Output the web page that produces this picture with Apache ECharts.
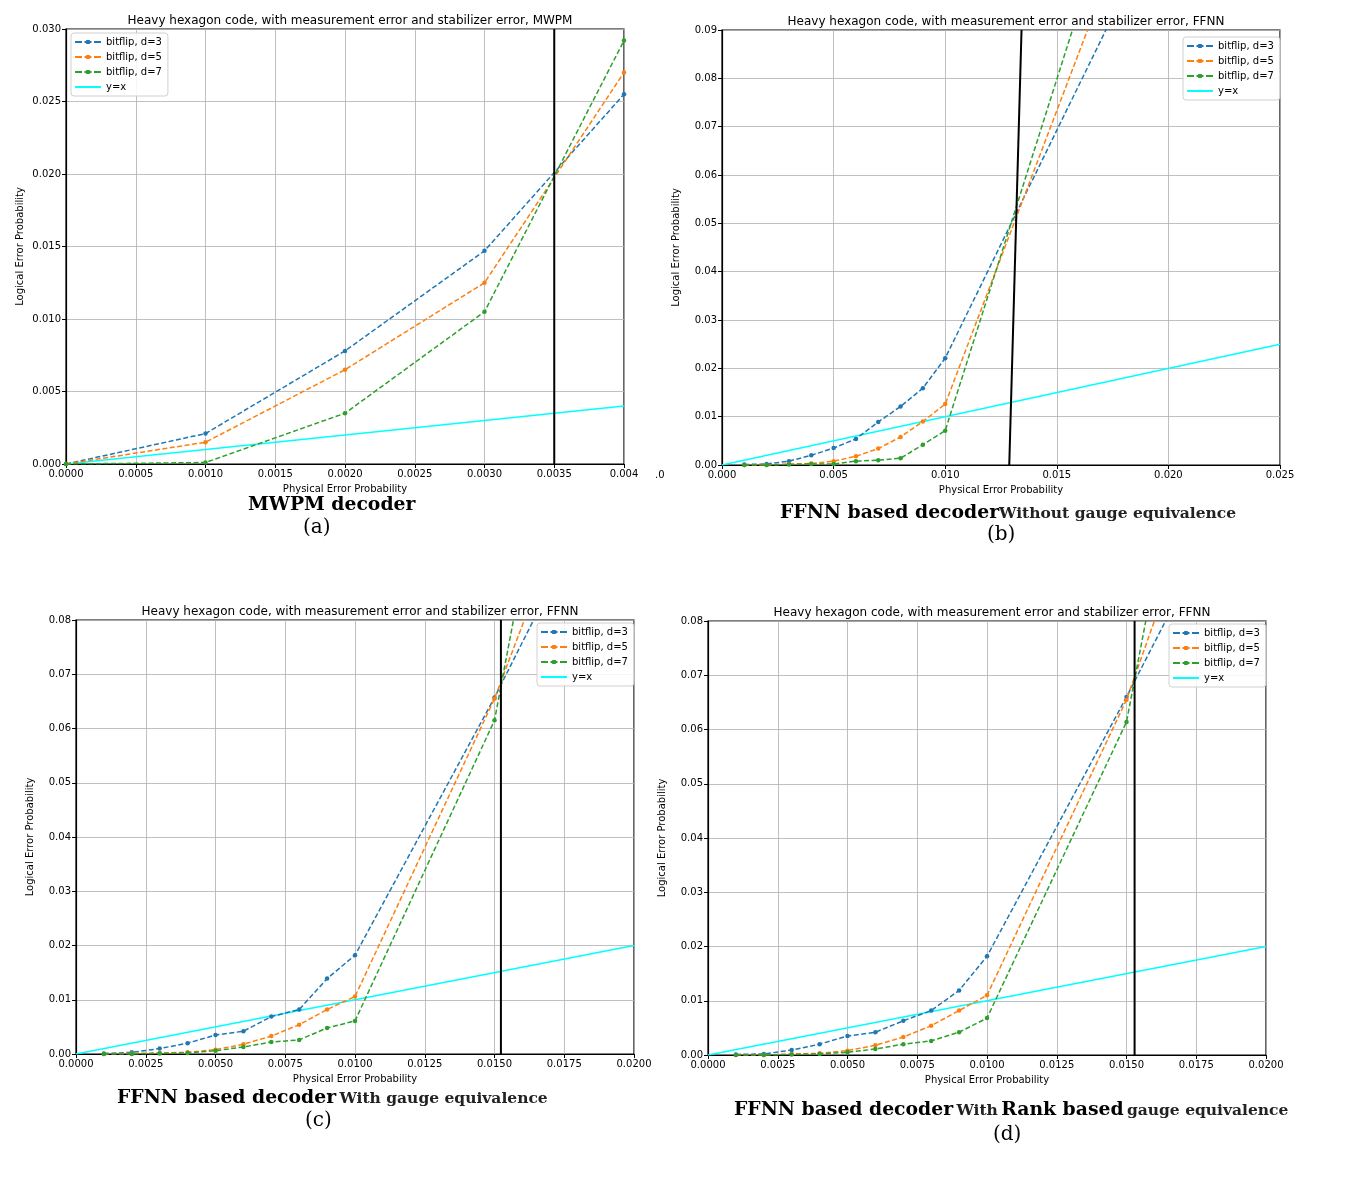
<!DOCTYPE html>
<html>
<head>
<meta charset="utf-8">
<title>Heavy hexagon code decoders</title>
<script src="https://cdn.jsdelivr.net/npm/echarts@6/dist/echarts.min.js"></script>
<style>
  html, body { margin: 0; padding: 0; background: #fff; }
  #main { width: 1353px; height: 1184px; }
</style>
</head>
<body>
<div id="main"></div>
<script>
// (a) MWPM
const pA = [0, 0.001, 0.002, 0.003, 0.004];
const aD3 = [0, 0.0021, 0.0078, 0.0147, 0.0255];
const aD5 = [0, 0.0015, 0.0065, 0.0125, 0.0270];
const aD7 = [0, 0.0001, 0.0035, 0.0105, 0.0292];
const aThreshX = [0.0035, 0.0035];
const aThreshY = [0, 0.03];

// (b) FFNN, without gauge equivalence
const pB = [0.001, 0.002, 0.003, 0.004, 0.005, 0.006, 0.007, 0.008, 0.009, 0.010, 0.020];
const bD3 = [0.0001, 0.0002, 0.0008, 0.0020, 0.0035, 0.0054, 0.0089, 0.0121, 0.0159, 0.0221, 0.1164];
const bD5 = [0, 0, 0.0002, 0.0003, 0.0008, 0.0018, 0.0034, 0.0058, 0.0090, 0.0126, 0.1340];
const bD7 = [0, 0, 0.0001, 0.0002, 0.0002, 0.0008, 0.0010, 0.0014, 0.0042, 0.0071, 0.1525];
const bThreshX = [0.01287, 0.01342];
const bThreshY = [0, 0.09];

// (c) FFNN, with gauge equivalence
const pC = [0.001, 0.002, 0.003, 0.004, 0.005, 0.006, 0.007, 0.008, 0.009, 0.010, 0.015, 0.020];
const cD3 = [0.0001, 0.0003, 0.0010, 0.0020, 0.0035, 0.0042, 0.0069, 0.0082, 0.0139, 0.0182, 0.0657, 0.1167];
const cD5 = [0, 0.0001, 0.0002, 0.0003, 0.0008, 0.0018, 0.0033, 0.0054, 0.0082, 0.0106, 0.0655, 0.1333];
const cD7 = [0, 0, 0.0001, 0.0002, 0.0006, 0.0013, 0.0022, 0.0026, 0.0048, 0.0061, 0.0615, 0.1975];
const cThreshX = [0.01523, 0.01523];
const cThreshY = [0, 0.08];

// (d) FFNN, with rank based gauge equivalence
const pD = [0.001, 0.002, 0.003, 0.004, 0.005, 0.006, 0.007, 0.008, 0.009, 0.010, 0.015, 0.020];
const dD3 = [0.0001, 0.0002, 0.0009, 0.0020, 0.0035, 0.0042, 0.0063, 0.0082, 0.0119, 0.0182, 0.0660, 0.1160];
const dD5 = [0, 0, 0.0002, 0.0003, 0.0008, 0.0018, 0.0033, 0.0054, 0.0082, 0.0110, 0.0655, 0.1380];
const dD7 = [0, 0, 0.0001, 0.0002, 0.0005, 0.0011, 0.0020, 0.0026, 0.0042, 0.0068, 0.0614, 0.1960];
const dThreshX = [0.01529, 0.01529];
const dThreshY = [0, 0.08];

const seriesNames = ["bitflip, d=3", "bitflip, d=5", "bitflip, d=7", "y=x"];
const colors = ["#1f77b4", "#ff7f0e", "#2ca02c", "#00ffff"];

const panelTitle = "Heavy hexagon code, with measurement error and stabilizer error, ";
const panelTitles = [panelTitle + "MWPM", panelTitle + "FFNN", panelTitle + "FFNN", panelTitle + "FFNN"];

const zip = (xs, ys) => xs.map((x, i) => [x, ys[i]]);

const panels = [
  { grid: { left: 66, top: 29, width: 558, height: 435 }, xMax: 0.004, xStep: 0.0005, xDec: 4,
    yMax: 0.03, yStep: 0.005, yDec: 3, xs: pA, d3: aD3, d5: aD5, d7: aD7,
    tx: aThreshX, ty: aThreshY, legend: { left: 71, top: 33 } },
  { grid: { left: 722, top: 30, width: 558, height: 435 }, xMax: 0.025, xStep: 0.005, xDec: 3,
    yMax: 0.09, yStep: 0.01, yDec: 2, xs: pB, d3: bD3, d5: bD5, d7: bD7,
    tx: bThreshX, ty: bThreshY, legend: { left: 1183, top: 37 } },
  { grid: { left: 76, top: 620, width: 558, height: 434 }, xMax: 0.02, xStep: 0.0025, xDec: 4,
    yMax: 0.08, yStep: 0.01, yDec: 2, xs: pC, d3: cD3, d5: cD5, d7: cD7,
    tx: cThreshX, ty: cThreshY, legend: { left: 537, top: 623 } },
  { grid: { left: 708, top: 621, width: 558, height: 434 }, xMax: 0.02, xStep: 0.0025, xDec: 4,
    yMax: 0.08, yStep: 0.01, yDec: 2, xs: pD, d3: dD3, d5: dD5, d7: dD7,
    tx: dThreshX, ty: dThreshY, legend: { left: 1169, top: 624 } },
];

const font = "DejaVu Sans";
const grids = [], xAxes = [], yAxes = [], series = [], titles = [], legends = [];

// legend keys drawn like matplotlib's: a short line, with a small dot for the marked series
const dashKey = "path://M0,4.1H7V5.9H0Z M9.5,4.1H16.5V5.9H9.5Z M19,4.1H26V5.9H19Z M11.6,2.9H14.4L15.2,3.7V6.3L14.4,7.1H11.6L10.8,6.3V3.7Z";
const solidKey = "path://M0,4H26V6H0Z";

panels.forEach((p, k) => {
  grids.push(Object.assign({ show: true, borderColor: "#000", borderWidth: 1.2,
    backgroundColor: "#fff", containLabel: false }, p.grid));

  xAxes.push({
    type: "value", gridIndex: k, min: 0, max: p.xMax, interval: p.xStep,
    name: "Physical Error Probability", nameLocation: "middle", nameGap: 20,
    nameTextStyle: { fontFamily: font, fontSize: 10, color: "#000" },
    axisLine: { show: true, onZero: false, lineStyle: { color: "#000", width: 1.2 } },
    axisTick: { show: true, length: 4, lineStyle: { color: "#000" } },
    axisLabel: {
      fontFamily: font, fontSize: 10, color: "#000", margin: 5, showMaxLabel: true,
      formatter: (v) => (k === 0 && Math.abs(v - p.xMax) < 1e-9) ? "0.004" : v.toFixed(p.xDec),
    },
    splitLine: { show: true, lineStyle: { color: "#b0b0b0", width: 0.8 } },
  });

  yAxes.push({
    type: "value", gridIndex: k, min: 0, max: p.yMax, interval: p.yStep,
    name: "Logical Error Probability", nameLocation: "middle", nameGap: 41,
    nameTextStyle: { fontFamily: font, fontSize: 10, color: "#000" },
    axisLine: { show: true, lineStyle: { color: "#000", width: 1.2 } },
    axisTick: { show: true, length: 4, lineStyle: { color: "#000" } },
    axisLabel: { fontFamily: font, fontSize: 10, color: "#000", margin: 5,
      formatter: (v) => v.toFixed(p.yDec) },
    splitLine: { show: true, lineStyle: { color: "#b0b0b0", width: 0.8 } },
  });

  [p.d3, p.d5, p.d7].forEach((ys, j) => {
    series.push({
      name: seriesNames[j], type: "line", xAxisIndex: k, yAxisIndex: k,
      data: zip(p.xs, ys), clip: true,
      symbol: "circle", symbolSize: 4.5, showSymbol: true,
      itemStyle: { color: colors[j] },
      lineStyle: { color: colors[j], width: 1.5, type: [5, 2.5] },
      animation: false, z: 3 + j,
    });
  });

  series.push({
    name: seriesNames[3], type: "line", xAxisIndex: k, yAxisIndex: k,
    data: [[0, 0], [p.xMax, p.xMax]], symbol: "none",
    itemStyle: { color: colors[3] },
    lineStyle: { color: colors[3], width: 1.5 }, animation: false, z: 2,
  });

  series.push({
    name: "threshold", type: "line", xAxisIndex: k, yAxisIndex: k,
    data: zip(p.tx, p.ty), symbol: "none",
    lineStyle: { color: "#000", width: 2 }, itemStyle: { color: "#000" },
    animation: false, z: 6,
  });

  titles.push({
    text: panelTitles[k],
    left: p.grid.left + p.grid.width / 2, top: p.grid.top - 19, textAlign: "center",
    textStyle: { fontFamily: font, fontSize: 12, fontWeight: "normal", color: "#000" },
  });

  legends.push(Object.assign({
    orient: "vertical",
    data: seriesNames.map((n, j) => ({ name: n, icon: j < 3 ? dashKey : solidKey })),
    backgroundColor: "rgba(255,255,255,0.85)", borderColor: "#d0d0d0", borderWidth: 1,
    borderRadius: 3, padding: [4, 6, 4, 4], itemGap: 5, itemWidth: 26, itemHeight: 10,
    textStyle: { fontFamily: font, fontSize: 10, color: "#000" },
    selectedMode: false,
  }, p.legend));
});

// captions under each panel
const capFont = "DejaVu Serif";
const richStyles = {
  b: { fontFamily: capFont, fontWeight: "bold", fontSize: 18.8, fill: "#000" },
  s: { fontFamily: capFont, fontWeight: "bold", fontSize: 15.5, fill: "#222" },
  l: { fontFamily: capFont, fontSize: 20, fill: "#000" },
};

const graphics = [
  { type: "text", left: 248, top: 496, style: { text: "{b|MWPM decoder}", rich: richStyles } },
  { type: "text", left: 303, top: 518, style: { text: "{l|(a)}", rich: richStyles } },
  { type: "text", left: 780, top: 504, style: { text: "{b|FFNN based decoder}{s|Without gauge equivalence}", rich: richStyles } },
  { type: "text", left: 987, top: 525, style: { text: "{l|(b)}", rich: richStyles } },
  { type: "text", left: 117, top: 1089, style: { text: "{b|FFNN based decoder} {s|With gauge equivalence}", rich: richStyles } },
  { type: "text", left: 305, top: 1111, style: { text: "{l|(c)}", rich: richStyles } },
  { type: "text", left: 734, top: 1101, style: { text: "{b|FFNN based decoder} {s|With} {b|Rank based} {s|gauge equivalence}", rich: richStyles } },
  { type: "text", left: 993, top: 1125, style: { text: "{l|(d)}", rich: richStyles } },
  { type: "text", left: 655, top: 470, style: { text: ".0", fontFamily: font, fontSize: 10, fill: "#000" } },
];

const chart = echarts.init(document.getElementById("main"), null, { renderer: "canvas" });
chart.setOption({
  backgroundColor: "#fff",
  animation: false,
  title: titles,
  legend: legends,
  grid: grids,
  xAxis: xAxes,
  yAxis: yAxes,
  series: series,
  graphic: graphics,
});
</script>
</body>
</html>
